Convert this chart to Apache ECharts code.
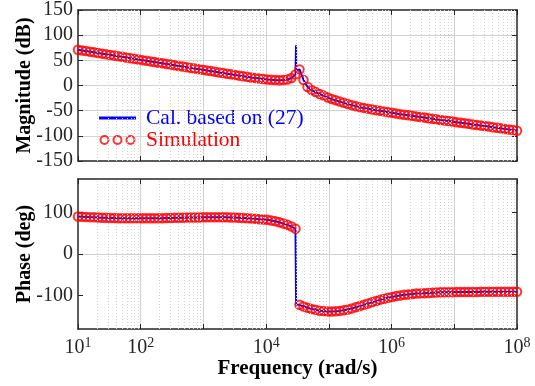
<!DOCTYPE html>
<html>
<head>
<meta charset="utf-8">
<script src="https://cdn.jsdelivr.net/npm/echarts@6/dist/echarts.min.js"></script>
<style>html,body{margin:0;padding:0;background:#fff}#c{width:535px;height:386px}</style>
</head>
<body>
<div id="c"></div>
<script>
// log10 of frequency (rad/s) for each simulated point
const freqExp = [1.000,1.064,1.128,1.193,1.257,1.321,1.385,1.450,1.514,1.578,
1.642,1.706,1.771,1.835,1.899,1.963,2.028,2.092,2.156,2.220,
2.284,2.349,2.413,2.477,2.541,2.606,2.670,2.734,2.798,2.862,
2.927,2.991,3.055,3.119,3.183,3.248,3.312,3.376,3.440,3.505,
3.569,3.633,3.697,3.761,3.826,3.890,3.954,4.018,4.083,4.147,
4.211,4.275,4.339,4.404,4.468,4.532,4.596,4.661,4.725,4.789,
4.853,4.917,4.982,5.046,5.110,5.174,5.239,5.303,5.367,5.431,
5.495,5.560,5.624,5.688,5.752,5.817,5.881,5.945,6.009,6.073,
6.138,6.202,6.266,6.330,6.394,6.459,6.523,6.587,6.651,6.716,
6.780,6.844,6.908,6.972,7.037,7.101,7.165,7.229,7.294,7.358,
7.422,7.486,7.550,7.615,7.679,7.743,7.807,7.872,7.936,8.000];
// magnitude (dB), simulation
const magSim = [71.0,69.7,68.4,67.1,65.9,64.6,63.3,62.0,60.7,59.4,
58.2,56.9,55.6,54.3,53.0,51.7,50.4,49.2,47.9,46.6,
45.3,44.0,42.7,41.5,40.2,38.9,37.6,36.3,35.0,33.8,
32.5,31.2,29.9,28.6,27.3,26.0,24.8,23.5,22.2,20.9,
19.6,18.4,17.2,16.0,14.9,13.9,12.9,12.0,11.3,10.8,
10.6,10.9,12.0,15.0,22.0,32.0,11.0,-3.0,-9.0,-13.0,
-17.0,-20.0,-24.0,-27.0,-29.5,-32.0,-34.5,-37.0,-39.0,-41.0,
-43.0,-44.5,-46.0,-47.5,-49.0,-50.0,-51.5,-53.0,-54.0,-55.5,
-57.0,-58.0,-59.0,-60.0,-61.5,-62.5,-63.5,-65.0,-66.0,-67.0,
-68.5,-69.5,-70.5,-71.5,-73.0,-74.0,-75.0,-76.0,-77.5,-78.5,
-79.5,-80.5,-81.5,-83.0,-84.0,-85.0,-86.5,-87.5,-88.5,-90.0];
// phase (deg), simulation
const phaseSim = [90.0,89.5,89.0,88.5,88.0,87.5,87.0,87.0,86.5,86.5,
86.0,86.0,86.0,86.0,86.0,86.0,86.0,86.0,86.0,86.0,
86.0,86.0,86.5,86.5,87.0,87.0,87.0,87.5,87.5,87.5,
87.5,88.0,88.0,88.0,88.0,88.0,88.0,88.0,87.5,87.5,
87.0,86.5,86.0,85.0,84.5,83.5,83.0,82.0,80.5,78.5,
76.0,73.0,70.0,66.0,60.5,-122.0,-126.0,-129.0,-132.0,-134.0,
-136.0,-137.0,-138.0,-138.0,-137.5,-136.5,-135.0,-133.0,-130.5,-128.0,
-125.0,-122.0,-119.0,-116.0,-113.0,-110.0,-107.5,-105.0,-103.0,-101.0,
-99.5,-98.0,-97.0,-96.0,-95.0,-94.5,-94.0,-93.5,-93.0,-92.5,
-92.0,-92.0,-91.5,-91.5,-91.0,-91.0,-91.0,-91.0,-91.0,-91.0,
-90.8,-90.8,-90.8,-90.6,-90.6,-90.6,-90.5,-90.5,-90.5,-90.5];
// extra points of the calculated curve (resonance spike / phase jump)
const calcExtraExp = [4.477, 4.479];
const calcExtraMag = [80, 30];
const calcJumpExp = [4.477, 4.478];
const calcJumpPhase = [59, -121];
// axis tick labels
const magTicks = [-150, -100, -50, 0, 50, 100, 150];
const phaseTicks = [-100, 0, 100];
const freqLabelExps = [1, 2, 4, 6, 8];
const seriesNames = ['Cal. based on (27)', 'Simulation'];

const FONT = 'Liberation Serif';
const TXT = '#262626';
const BLUE = '#0000ff';
const RED = '#ff0000';

const toF = e => Math.pow(10, e);
const simMag = freqExp.map((e, i) => [toF(e), magSim[i]]);
const simPhase = freqExp.map((e, i) => [toF(e), phaseSim[i]]);
const calcMag = freqExp.map((e, i) => [e, magSim[i]])
  .concat(calcExtraExp.map((e, i) => [e, calcExtraMag[i]]))
  .sort((a, b) => a[0] - b[0]).map(p => [toF(p[0]), p[1]]);
const calcPhase = freqExp.map((e, i) => [e, phaseSim[i]])
  .concat(calcJumpExp.map((e, i) => [e, calcJumpPhase[i]]))
  .sort((a, b) => a[0] - b[0] || b[1] - a[1]).map(p => [toF(p[0]), p[1]]);

// minor (2..9 x 10^n) grid lines
const minorLines = [];
for (let n = 1; n < 8; n++) for (let m = 2; m < 10; m++) minorLines.push({ xAxis: m * Math.pow(10, n) });

const axisLineStyle = { show: true, onZero: false, lineStyle: { color: TXT, width: 1.5 } };
const tickIn = { show: true, inside: true, length: 5, lineStyle: { color: TXT, width: 1 } };
const major = { show: true, showMinLine: false, showMaxLine: false, lineStyle: { color: '#d2d2d2', width: 1 } };

function xAx(grid, pos, labels) {
  return {
    type: 'log', logBase: 10, min: 10, max: 1e8, splitNumber: 7, gridIndex: grid, position: pos,
    axisLine: axisLineStyle, axisTick: tickIn,
    splitLine: pos === 'bottom' ? major : { show: false },
    axisLabel: labels ? {
      show: true, margin: 7, fontFamily: FONT, color: TXT,
      formatter: v => {
        const e = Math.round(Math.log10(v));
        return freqLabelExps.indexOf(e) >= 0 ? '{b|10}{s|' + e + '}' : '';
      },
      rich: {
        b: { fontFamily: FONT, fontSize: 20, color: TXT, lineHeight: 22, verticalAlign: 'bottom' },
        s: { fontFamily: FONT, fontSize: 14, color: TXT, lineHeight: 14, verticalAlign: 'top' }
      }
    } : { show: false },
    name: labels ? 'Frequency (rad/s)' : '',
    nameLocation: 'middle', nameGap: 29, nameMoveOverlap: false,
    nameTextStyle: { fontFamily: FONT, fontSize: 21, fontWeight: 'bold', color: '#000' }
  };
}
function yAx(grid, pos, min, max, ticks, name) {
  const main = pos === 'left';
  return {
    type: 'value', gridIndex: grid, position: pos, min: min, max: max,
    axisLine: axisLineStyle,
    axisTick: Object.assign({}, tickIn, { customValues: ticks }),
    splitLine: main ? major : { show: false },
    axisLabel: main ? { show: true, customValues: ticks, margin: 5, fontFamily: FONT, fontSize: 20, color: TXT } : { show: false },
    name: main ? name : '', nameLocation: 'middle', nameGap: 43, nameMoveOverlap: false,
    nameTextStyle: { fontFamily: FONT, fontSize: 20, fontWeight: 'bold', color: '#000' }
  };
}

const ringPath = 'path://' + [5, 18, 31].map(c =>
  `M${c - 5},5A5,5 0 1,1 ${c + 5},5A5,5 0 1,1 ${c - 5},5Z` +
  `M${c - 3},5A3,3 0 1,0 ${c + 3},5A3,3 0 1,0 ${c - 3},5Z`).join('');

const chart = echarts.init(document.getElementById('c'), null, { renderer: 'canvas' });
chart.setOption({
  animation: false,
  backgroundColor: '#fff',
  grid: [
    { left: 78, right: 18, top: 10, height: 151 },
    { left: 78, right: 18, top: 179, height: 150 }
  ],
  xAxis: [xAx(0, 'bottom', false), xAx(1, 'bottom', true), xAx(0, 'top', false), xAx(1, 'top', false)],
  yAxis: [
    yAx(0, 'left', -150, 150, magTicks, 'Magnitude (dB)'),
    yAx(1, 'left', -180, 180, phaseTicks, 'Phase (deg)'),
    yAx(0, 'right', -150, 150, magTicks, ''),
    yAx(1, 'right', -180, 180, phaseTicks, '')
  ],
  legend: {
    left: 94, top: 102, orient: 'vertical', selectedMode: false,
    itemWidth: 37, itemHeight: 10, itemGap: 0, symbolKeepAspect: true,
    textStyle: { fontFamily: FONT, fontSize: 21.5, lineHeight: 19, padding: [0, 0, 0, 5] },
    data: [
      { name: seriesNames[0], icon: 'path://M0,0L36,0L36,3L0,3Z', itemStyle: { color: BLUE, borderWidth: 0 }, textStyle: { color: BLUE } },
      { name: seriesNames[1], icon: ringPath, itemStyle: { color: RED, borderWidth: 0 }, textStyle: { color: RED } }
    ]
  },
  series: [
    { type: 'line', xAxisIndex: 0, yAxisIndex: 0, data: [], z: 1, silent: true,
      markLine: { silent: true, symbol: 'none', label: { show: false }, animation: false,
        lineStyle: { type: [1, 2], color: '#d4d4d4', width: 1 }, data: minorLines } },
    { type: 'line', xAxisIndex: 1, yAxisIndex: 1, data: [], z: 1, silent: true,
      markLine: { silent: true, symbol: 'none', label: { show: false }, animation: false,
        lineStyle: { type: [1, 2], color: '#d4d4d4', width: 1 }, data: minorLines } },
    { name: seriesNames[0], type: 'line', xAxisIndex: 0, yAxisIndex: 0, data: calcMag, showSymbol: false,
      lineStyle: { color: BLUE, width: 2 }, itemStyle: { color: BLUE }, z: 3 },
    { name: seriesNames[1], type: 'scatter', xAxisIndex: 0, yAxisIndex: 0, data: simMag, symbol: 'circle', symbolSize: 8.5,
      itemStyle: { color: 'rgba(255,255,255,0)', borderColor: RED, borderWidth: 2 }, z: 4 },
    { name: seriesNames[0], type: 'line', xAxisIndex: 1, yAxisIndex: 1, data: calcPhase, showSymbol: false,
      lineStyle: { color: BLUE, width: 2 }, itemStyle: { color: BLUE }, z: 3 },
    { name: seriesNames[1], type: 'scatter', xAxisIndex: 1, yAxisIndex: 1, data: simPhase, symbol: 'circle', symbolSize: 8.5,
      itemStyle: { color: 'rgba(255,255,255,0)', borderColor: RED, borderWidth: 2 }, z: 4 }
  ]
});
</script>
</body>
</html>
